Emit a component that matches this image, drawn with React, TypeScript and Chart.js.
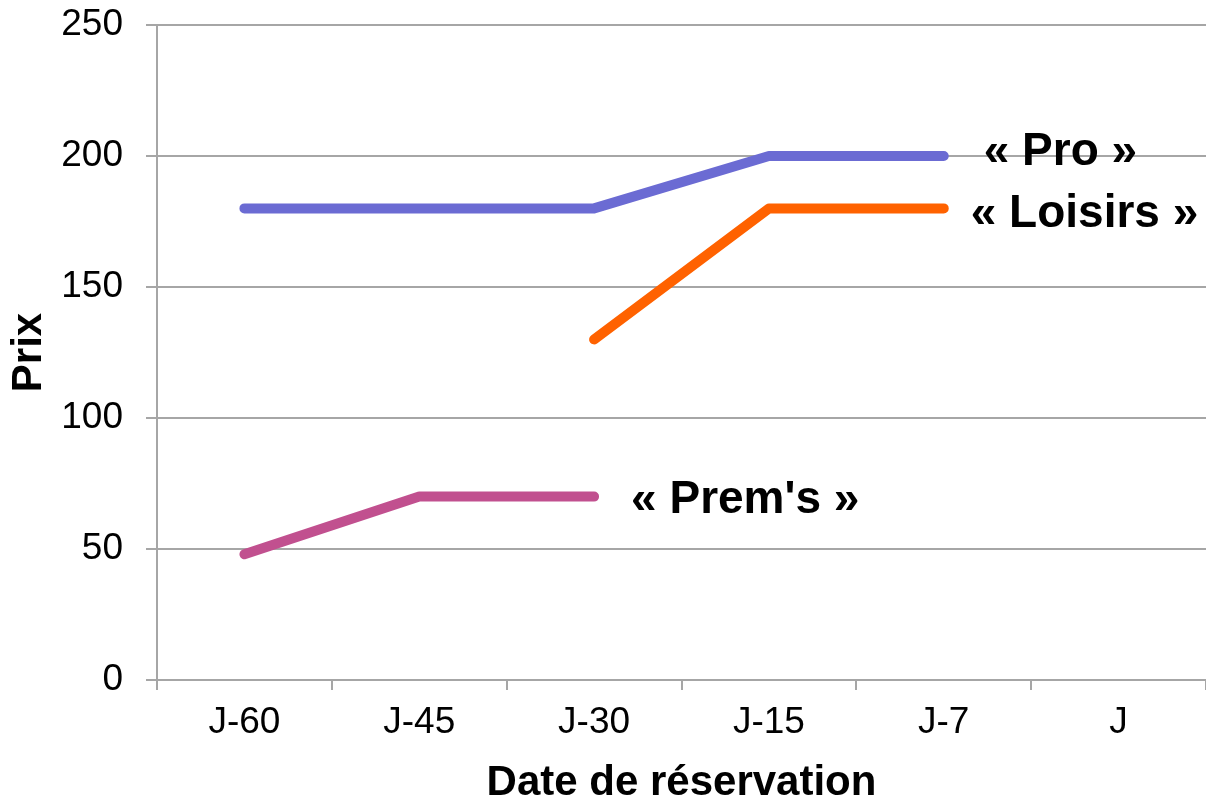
import React, { useEffect, useRef } from "react";
import { Chart, registerables } from "chart.js";

Chart.register(...registerables);

const categories = ["J-60", "J-45", "J-30", "J-15", "J-7", "J"];
const proValues = [180, 180, 180, 200, 200, null];
const loisirsValues = [null, null, 130, 180, 180, null];
const premsValues = [48, 70, 70, null, null, null];
const yTicks = [0, 50, 100, 150, 200, 250];

const seriesNames = ["« Pro »", "« Loisirs »", "« Prem's »"];
const seriesColors = ["#6b6bd3", "#ff6200", "#c1508f"];
// label anchor: data index the label hangs from, and pixel offset
const labelAnchors = [
  { index: 4, dx: 40, dy: 9 },
  { index: 4, dx: 27, dy: 19 },
  { index: 2, dx: 37, dy: 16 },
];

const FONT = "'Liberation Sans', Arial, Helvetica, sans-serif";

const seriesLabelPlugin = {
  id: "seriesLabels",
  afterDatasetsDraw(chart: any) {
    const ctx = chart.ctx;
    const xs = chart.scales.x;
    const ys = chart.scales.y;
    ctx.save();
    ctx.font = `bold 46px ${FONT}`;
    ctx.fillStyle = "#000";
    ctx.textAlign = "left";
    ctx.textBaseline = "alphabetic";
    chart.data.datasets.forEach((ds: any, i: number) => {
      const a = labelAnchors[i];
      const v = ds.data[a.index];
      if (v == null) return;
      const x = xs.getPixelForValue(a.index) + a.dx;
      const y = ys.getPixelForValue(v) + a.dy;
      ctx.fillText(seriesNames[i], x, y);
    });
    ctx.restore();
  },
};

export default function App() {
  const ref = useRef<HTMLCanvasElement | null>(null);

  useEffect(() => {
    document.body.style.margin = "0";
    const canvas = ref.current;
    if (!canvas) return;
    const makeDs = (data: (number | null)[], i: number) => ({
      label: seriesNames[i],
      data,
      borderColor: seriesColors[i],
      backgroundColor: seriesColors[i],
      borderWidth: 10,
      borderCapStyle: "round" as const,
      borderJoinStyle: "round" as const,
      pointRadius: 0,
      pointHoverRadius: 0,
      tension: 0,
      spanGaps: false,
      fill: false,
    });
    const chart = new Chart(canvas, {
      type: "line",
      data: {
        labels: categories,
        datasets: [
          makeDs(proValues, 0),
          makeDs(loisirsValues, 1),
          makeDs(premsValues, 2),
        ],
      },
      plugins: [seriesLabelPlugin],
      options: {
        animation: false,
        responsive: true,
        maintainAspectRatio: false,
        layout: { padding: { top: 0, left: 0, right: 0, bottom: 0 } },
        plugins: {
          legend: { display: false },
          tooltip: { enabled: false },
          title: { display: false },
        },
        scales: {
          x: {
            type: "category",
            offset: true,
            grid: {
              display: true,
              offset: true,
              drawOnChartArea: false,
              drawTicks: true,
              tickLength: 10,
              color: "#a6a6a6",
              lineWidth: 2,
            },
            border: { display: true, color: "#a6a6a6", width: 2 },
            ticks: {
              color: "#000",
              font: { family: FONT, size: 37 },
              padding: 11,
              maxRotation: 0,
              autoSkip: false,
            },
            title: {
              display: true,
              text: "Date de réservation",
              color: "#000",
              font: { family: FONT, size: 42, weight: "bold", lineHeight: 0.85 },
              padding: { top: 0, bottom: 0 },
            },
            afterFit(scale: any) {
              scale.height = 121;
              scale.paddingLeft = 0;
              scale.paddingRight = 0;
            },
          },
          y: {
            min: 0,
            max: 250,
            afterBuildTicks(scale: any) {
              scale.ticks = yTicks.map((v) => ({ value: v }));
            },
            grid: {
              display: true,
              drawTicks: true,
              tickLength: 11,
              color: "#a6a6a6",
              lineWidth: 2,
            },
            border: { display: true, color: "#a6a6a6", width: 2 },
            ticks: {
              color: "#000",
              font: { family: FONT, size: 37 },
              padding: 23,
            },
            title: {
              display: true,
              text: "Prix",
              color: "#000",
              font: { family: FONT, size: 42, weight: "bold", lineHeight: 1.2 },
              padding: { top: 4, bottom: 0 },
            },
            afterFit(scale: any) {
              scale.width = 157;
              scale.paddingTop = 25;
              scale.paddingBottom = 0;
            },
          },
        },
      },
    });
    return () => chart.destroy();
  }, []);

  return (
    <div style={{ position: "relative", width: 1206, height: 801, overflow: "hidden", background: "#fff" }}>
      <canvas ref={ref} />
    </div>
  );
}
